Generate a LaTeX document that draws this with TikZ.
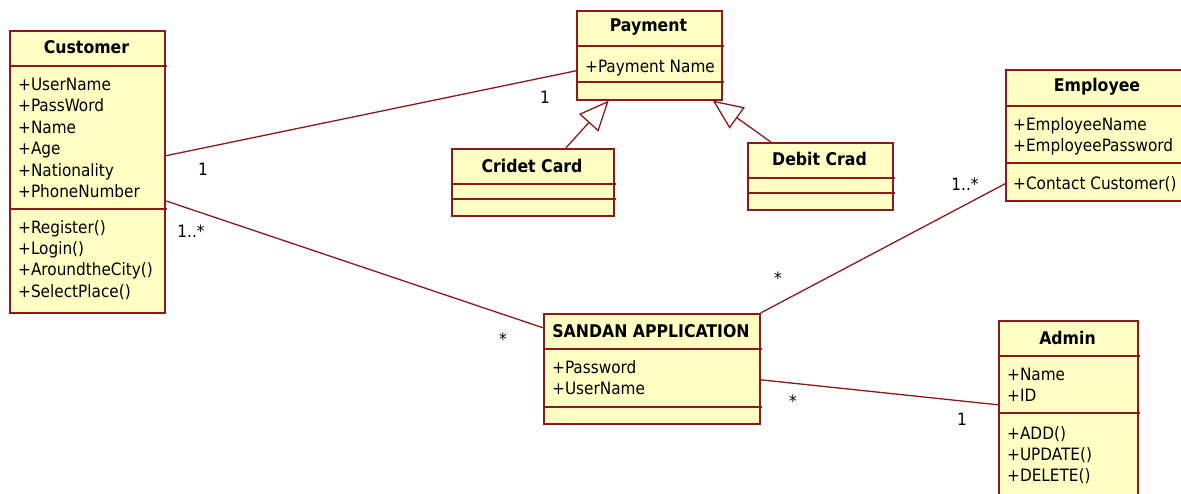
\documentclass[tikz,border=0pt]{standalone}
\usepackage{fontspec}
\setmainfont{DejaVu Sans Condensed}
\usepackage{tikz}
\usetikzlibrary{arrows.meta, positioning}

\definecolor{umlline}{RGB}{140,26,26}
\definecolor{umlfill}{RGB}{255,255,196}
\tikzset{
  classbox/.style={draw=umlline, fill=umlfill, line width=1.6pt, anchor=north west, inner sep=0pt},
  clstitle/.style={font=\fontsize{17.5}{20}\selectfont\bfseries, inner sep=0pt},
  members/.style={font=\fontsize{17}{21.4}\selectfont, align=left, anchor=north west, inner sep=0pt,
    execute at begin node=\strut, yshift=13pt},
  divider/.style={draw=umlline, line width=1.4pt},
  assoc/.style={draw=umlline, line width=1.3pt},
  inherit/.style={draw=umlline, line width=1.3pt, -{Triangle[open, length=30pt, width=26pt, line width=1.3pt]}},
  mult/.style={font=\fontsize{17}{20}\selectfont, inner sep=0pt}
}

\begin{document}
\begin{tikzpicture}[x=1pt, y=-1pt]
  \clip (0,0) rectangle (1181,493);
  \fill[white] (0,0) rectangle (1181,493);

  % Customer
  \node[classbox, minimum width=155pt, minimum height=282pt] (cust) at (9,30) {};
  \node[clstitle] (cust-name) at (86.5,47) {Customer};
  \draw[divider] (9,66) -- (167,66);
  \node[members] (cust-attr) at (18,91) {+UserName\\+PassWord\\+Name\\+Age\\+Nationality\\+PhoneNumber};
  \draw[divider] (9,209) -- (167,209);
  \node[members] (cust-ops) at (18,233) {+Register()\\+Login()\\+AroundtheCity()\\+SelectPlace()};

  % Payment and its subclasses
  \node[classbox, minimum width=145pt, minimum height=89pt] (pay) at (576,10) {};
  \node[clstitle] (pay-name) at (648.5,27) {Payment};
  \draw[divider] (576,46) -- (724,46);
  \node[members] (pay-attr) at (585,70) {+Payment Name};
  \draw[divider] (576,82) -- (724,82);

  \node[classbox, minimum width=162pt, minimum height=67pt] (credit) at (451,148) {};
  \node[clstitle] (credit-name) at (532,166) {Cridet Card};
  \draw[divider] (451,184) -- (616,184);
  \draw[divider] (451,199) -- (616,199);

  \node[classbox, minimum width=145pt, minimum height=67pt] (debit) at (747,142) {};
  \node[clstitle] (debit-name) at (819.5,159) {Debit Crad};
  \draw[divider] (747,178) -- (895,178);
  \draw[divider] (747,193) -- (895,193);

  % Employee
  \node[classbox, minimum width=200pt, minimum height=131pt] (emp) at (1005,69) {};
  \node[clstitle] (emp-name) at (1097,87) {Employee};
  \draw[divider] (1005,106) -- (1208,106);
  \node[members] (emp-attr) at (1013,130) {+EmployeeName\\+EmployeePassword};
  \draw[divider] (1005,163) -- (1208,163);
  \node[members] (emp-ops) at (1013,187) {+Contact Customer()};

  % Application
  \node[classbox, minimum width=216pt, minimum height=110pt] (app) at (543,313) {};
  \node[clstitle] (app-name) at (651,331) {SANDAN APPLICATION};
  \draw[divider] (543,349) -- (762,349);
  \node[members] (app-attr) at (552,373) {+Password\\+UserName};
  \draw[divider] (543,407) -- (762,407);

  % Admin
  \node[classbox, minimum width=139pt, minimum height=200pt] (admin) at (998,320) {};
  \node[clstitle] (admin-name) at (1067.5,338) {Admin};
  \draw[divider] (998,356) -- (1140,356);
  \node[members] (admin-attr) at (1007,381) {+Name\\+ID};
  \draw[divider] (998,413) -- (1140,413);
  \node[members] (admin-ops) at (1007,439) {+ADD()\\+UPDATE()\\+DELETE()};

  % connectors
  \draw[assoc] ([yshift=16pt]cust.east) -- ([yshift=-15.5pt]pay.west);
  \draw[assoc] ([yshift=-29pt]cust.east) -- ([yshift=41pt]app.west);
  \draw[assoc] (app.north east) -- ([yshift=-48.5pt]emp.west);
  \draw[assoc] ([yshift=-11pt]app.east) -- ([yshift=16pt]admin.west);
  \draw[inherit] ([xshift=33pt]credit.north) -- ([xshift=-40.5pt]pay.south);
  \draw[inherit] ([xshift=-49.5pt]debit.north) -- ([xshift=63.5pt]pay.south);

  % multiplicities
  \node[mult] (m1) at (203,169) {1};
  \node[mult] (m2) at (545,97) {1};
  \node[mult] (m3) at (191,231) {1..*};
  \node[mult] (m4) at (503,339) {*};
  \node[mult] (m5) at (778,278) {*};
  \node[mult] (m6) at (965,184) {1..*};
  \node[mult] (m7) at (793,401) {*};
  \node[mult] (m8) at (962,419) {1};
\end{tikzpicture}
\end{document}
